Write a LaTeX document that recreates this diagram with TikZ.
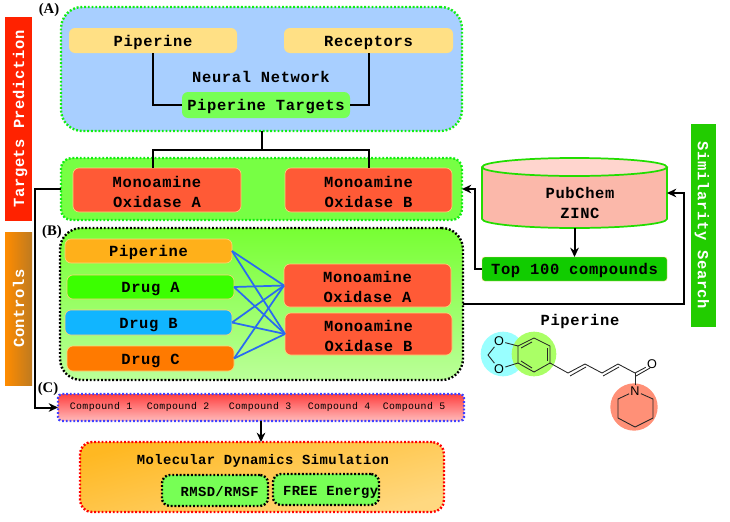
\documentclass[tikz,border=0pt]{standalone}
\usepackage{fontspec}
\setmainfont{Liberation Serif}
\newfontfamily\courf[LetterSpace=4.1]{Liberation Mono}
\newfontfamily\courg[LetterSpace=3]{Liberation Mono}
\newfontfamily\molf{Liberation Sans}
\usetikzlibrary{arrows.meta}
\definecolor{cpip}{HTML}{FFE085}
\definecolor{cblue}{HTML}{A8CFFF}
\definecolor{cgreen}{HTML}{77FF55}
\definecolor{cband}{HTML}{77FF44}
\definecolor{cdot}{HTML}{11EE11}
\definecolor{cmao}{HTML}{FF5A36}
\definecolor{cedge}{HTML}{FFD27A}
\definecolor{cred}{HTML}{FF2200}
\definecolor{csim}{HTML}{22CC00}
\definecolor{clink}{HTML}{2A6BF0}
\definecolor{dpip}{HTML}{FFB01A}
\definecolor{dA}{HTML}{3BFF00}
\definecolor{dB}{HTML}{11B5FF}
\definecolor{dC}{HTML}{FF7A00}
\definecolor{bandtop}{HTML}{77FF33}
\definecolor{bandbot}{HTML}{BBFF99}
\definecolor{ctop}{HTML}{11CC00}
\definecolor{cyl}{HTML}{22DD00}
\definecolor{cylb}{HTML}{FBB8AA}
\definecolor{cylt}{HTML}{FFD5CE}
\definecolor{mdA}{HTML}{FFB822}
\definecolor{mdB}{HTML}{FFD880}
\definecolor{ctlA}{HTML}{FF8C00}
\definecolor{ctlB}{HTML}{BE7A20}
\definecolor{cpA}{HTML}{FF4040}
\definecolor{cpB}{HTML}{FFBBBB}
\definecolor{hB}{HTML}{99FFFF}
\definecolor{hG}{HTML}{AAFF66}
\definecolor{hR}{HTML}{FF9077}
\tikzset{
  base/.style={rectangle,inner sep=0pt,outer sep=0pt,align=center},
  lab/.style={base,font=\courf\bfseries\fontsize{11.6}{15}\selectfont},
  smalllab/.style={base,font=\courg\bfseries\fontsize{10.4}{13}\selectfont},
  one/.style={text height=10pt,text depth=1.4pt},
  soft/.style={lab,rounded corners=4.5pt},
  dotb/.style={base,rounded corners=16pt,line width=1.8pt,dash pattern=on 1.4pt off 1.4pt},
  mao/.style={soft,fill=cmao,draw=cedge,line width=.5pt},
  drug/.style={soft,one,draw=cedge,line width=.5pt},
  wire/.style={line width=1.5pt,black},
  arr/.style={wire,-{Stealth[length=7pt,width=6.5pt]}},
  bluelink/.style={line width=1.3pt,clink},
  tag/.style={base,font=\rmfamily\bfseries\fontsize{11}{12}\selectfont},
  cmp/.style={base,font=\courf\fontsize{7.4}{9}\selectfont},
  bond/.style={line width=.65pt,black!85},
  atom/.style={base,font=\molf\fontsize{9.5}{10}\selectfont,inner sep=1pt},
  halo/.style={circle,inner sep=0pt,outer sep=0pt}
}
\newcommand\bx[7]{%
  \pgfmathsetmacro\bxcx{(#2+#4)/2}\pgfmathsetmacro\bxcy{(#3+#5)/2}%
  \pgfmathsetmacro\bxw{(#4-#2)*.75}\pgfmathsetmacro\bxh{(#5-#3)*.75}%
  \node[#6,minimum width=\bxw pt,minimum height=\bxh pt] (#1) at (\bxcx,\bxcy) {#7};}
\newcommand\tl{\rule{0pt}{11.5pt}}
\begin{document}
\begin{tikzpicture}[x=.75pt,y=-.75pt]
\useasboundingbox (0,0) rectangle (730,521);
% side bars
\node[lab,one,rotate=90,text=white,fill=cred,minimum width=153pt,minimum height=20.25pt] (tp) at (18.5,119) {Targets Prediction};
\bx{ctlbg}{5}{232}{32}{385}{base,left color=ctlA,middle color=ctlA,right color=ctlB}{}
\node[lab,one,rotate=90,text=white] (ctl) at (ctlbg.center) {Controls};
\node[lab,one,text=white,rotate=-90,fill=csim,minimum width=152pt,minimum height=18.75pt] (sim) at (703.5,225.5) {Similarity Search};
% panel A
\bx{pa}{61}{7}{462}{131}{dotb,fill=cblue,draw=cdot}{}
\bx{pipt}{69}{28}{237}{53}{soft,one,fill=cpip}{Piperine}
\bx{rec}{284}{28}{453}{53}{soft,one,fill=cpip}{Receptors}
\node[lab,one] (nn) at (261,77) {Neural Network};
\bx{tgt}{182}{92}{350}{118}{soft,one,fill=cgreen}{Piperine Targets}
\draw[wire] (pipt.south) -- (pipt.south |- tgt.west) -- (tgt.west);
\draw[wire] (rec.south) -- (rec.south |- tgt.east) -- (tgt.east);
% band
\bx{pb}{61}{158}{462}{220}{dotb,rounded corners=8pt,fill=cband,draw=cdot}{}
\bx{ma}{73}{168}{241}{212}{mao}{\tl Monoamine\\Oxidase A}
\bx{mb}{285}{168}{452}{212}{mao}{\tl Monoamine\\Oxidase B}
\coordinate (split) at (261,150);
\draw[wire] (pa.south) -- (pa.south |- split);
\draw[wire] (pipt.south |- ma.north) -- (pipt.south |- split) -- (mb.north |- split) -- (mb.north);
% panel B
\bx{pc}{60}{228}{463}{380}{dotb,draw=black,top color=bandtop,middle color=bandtop!70!bandbot,bottom color=bandbot}{}
\bx{dp}{65}{239}{232}{263}{drug,fill=dpip}{Piperine}
\bx{da}{67}{275}{234}{299}{drug,fill=dA}{Drug A}
\bx{db}{65}{310}{232}{335}{drug,fill=dB}{Drug B}
\bx{dc}{67}{346}{234}{371}{drug,fill=dC}{Drug C}
\bx{ma2}{284}{264}{451}{307}{mao}{\rule{0pt}{10.5pt}Monoamine\\Oxidase A}
\bx{mb2}{285}{313}{452}{355}{mao}{\tl Monoamine\\Oxidase B}
\foreach \d in {dp,da,db,dc}{\foreach \m in {ma2,mb2}{\draw[bluelink] (\d.east) -- (\m.west);}}
% database
\bx{zn}{482}{158}{667}{228}{base}{}
\draw[draw=cyl,line width=1.3pt,fill=cylb] (482,167) -- (482,219) arc[start angle=180,end angle=0,x radius=92.5,y radius=9] -- (667,167);
\draw[draw=cyl,line width=1.3pt,fill=cylt] (574.5,167) ellipse[x radius=92.5,y radius=9];
\node[lab] (zt) at (580,203) {PubChem\\ZINC};
\bx{top}{482}{257}{667}{281}{soft,one,rounded corners=2pt,fill=ctop,draw=cedge,line width=.3pt}{Top 100 compounds}
\draw[arr] (zn.south) -- (top.north);
\coordinate (jl) at (475,190);
\draw[arr] (top.west) -- (jl |- top.west) -- (jl |- pb.east) -- (pb.east);
\coordinate (jr) at (684,304);
\draw[arr] (pc.east) -- (jr |- pc.east) -- (jr |- zn.east) -- (zn.east);
% panel C
\bx{pd}{58}{394}{464}{421}{dotb,rounded corners=3pt,draw=blue!75!white,top color=cpA,bottom color=cpB}{}
\node[cmp] (c1) at (101,407) {Compound 1};
\node[cmp] (c2) at (178,407) {Compound 2};
\node[cmp] (c3) at (260,407) {Compound 3};
\node[cmp] (c4) at (339,407) {Compound 4};
\node[cmp] (c5) at (414,407) {Compound 5};
\coordinate (jd) at (35,300);
\draw[arr] (pb.west) -- (jd |- pb.west) -- (jd |- pd.west) -- (pd.west);
% MD
\bx{pe}{80}{442}{444}{512}{dotb,rounded corners=9pt,draw=red,top color=mdA,bottom color=mdB,shading angle=15}{}
\node[smalllab,one] (md) at (263,458.5) {Molecular Dynamics Simulation};
\bx{rm}{162}{475}{268}{506}{dotb,smalllab,one,rounded corners=6pt,draw=black,fill=cgreen}{\hspace{7pt}RMSD/RMSF}
\bx{fe}{273}{474}{379}{505}{dotb,smalllab,one,rounded corners=6pt,draw=black,fill=cgreen}{\hspace{7pt}FREE Energy}
\draw[arr] (pd.south) -- (pd.south |- pe.north);
% tags
\node[tag] (ta) at (49,10) {(A)};
\node[tag] (tb) at (52,232) {(B)};
\node[tag] (tc) at (48,389) {(C)};
% molecule
\node[lab,one] (pl) at (580,320) {Piperine};
\node[halo,fill=hB,minimum size=33.5pt] (h1) at (503,354) {};
\node[halo,fill=hG,minimum size=33.5pt] (h2) at (534,354) {};
\node[halo,fill=hR,minimum size=35.5pt] (h3) at (634,407) {};
\node[atom] (o1) at (499,341) {O};
\node[atom] (o2) at (499,369) {O};
\node[atom] (o3) at (652,364) {O};
\node[atom] (n1) at (635,391) {N};
\coordinate (r1) at (534,338); \coordinate (r2) at (550,346); \coordinate (r3) at (550,363);
\coordinate (r4) at (534,372); \coordinate (r5) at (518,363); \coordinate (r6) at (518,346);
\coordinate (c0) at (488,355);
\coordinate (s1) at (568,373); \coordinate (s2) at (585,364); \coordinate (s3) at (602,373);
\coordinate (s4) at (618,364); \coordinate (s5) at (635,373);
\coordinate (p1) at (653,399); \coordinate (p2) at (653,418); \coordinate (p3) at (635,427);
\coordinate (p4) at (618,418); \coordinate (p5) at (618,399);
\draw[bond] (r1) -- (r2) -- (r3) -- (r4) -- (r5) -- (r6) -- cycle;
\draw[bond] (532,342) -- (521,348);
\draw[bond] (547,348) -- (547,361);
\draw[bond] (532,368) -- (521,361);
\draw[bond] (r6) -- (o1); \draw[bond] (r5) -- (o2);
\draw[bond] (o1) -- (c0) -- (o2);
\draw[bond] (r3) -- (s1) -- (s2) -- (s3) -- (s4) -- (s5) -- (o3);
\draw[bond] (570,376) -- (586,367);
\draw[bond] (603,376) -- (619,367);
\draw[bond] (636,376) -- (650,368);
\draw[bond] (s5) -- (n1);
\draw[bond] (n1) -- (p1) -- (p2) -- (p3) -- (p4) -- (p5) -- (n1);
\end{tikzpicture}
\end{document}
